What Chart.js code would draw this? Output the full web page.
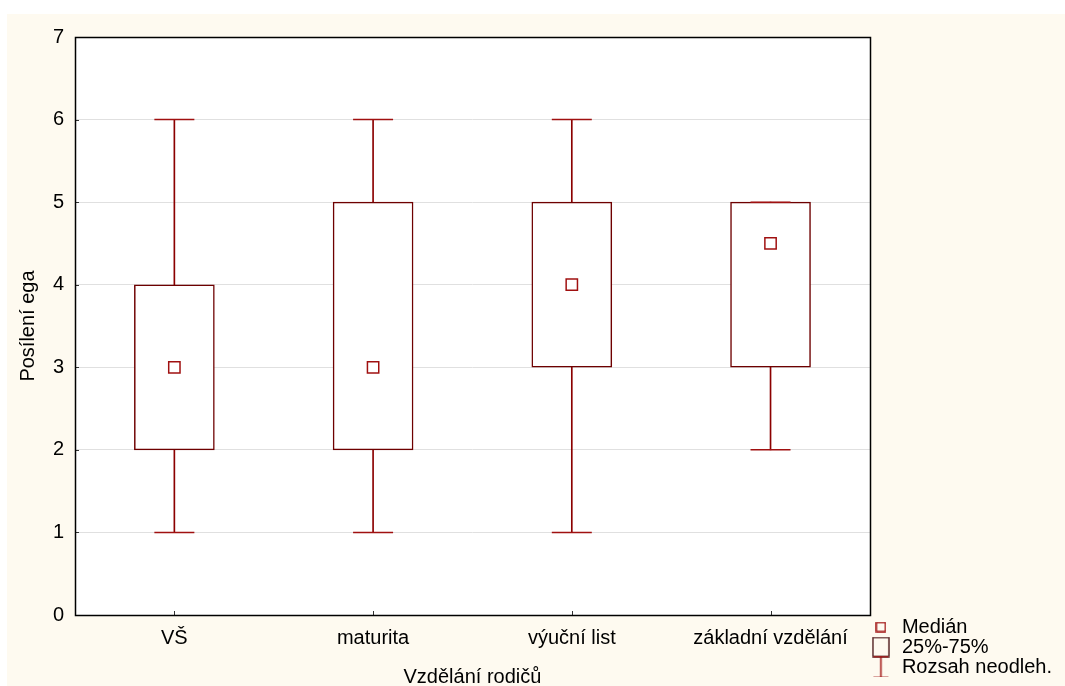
<!DOCTYPE html>
<html lang="cs">
<head>
<meta charset="UTF-8">
<title>Posílení ega – Vzdělání rodičů</title>
<script src="https://cdn.jsdelivr.net/npm/chart.js"></script>
<style>
    body { margin: 0; background: #fff; }
    #wrap {
        position: absolute;
        left: 7px; top: 14px;
        width: 1058px; height: 672px;
        background: #fefaf0;
    }
</style>
</head>
<body>
<div id="wrap"><canvas id="chart"></canvas></div>
<script>
    // box plot values
    const categories = ['VŠ', 'maturita', 'výuční list', 'základní vzdělání'];
    const minValues = [1, 1, 1, 2];
    const q1Values = [2, 2, 3, 3];
    const medianValues = [3, 3, 4, 4.5];
    const q3Values = [4, 5, 5, 5];
    const maxValues = [6, 6, 6, 5];
    const legendTexts = ['Medián', '25%-75%', 'Rozsah neodleh.'];

    const RED = '#8b0000';
    const FONT = '"Liberation Sans", Arial, sans-serif';

    // small icons for the legend
    function icon(w, h, draw) {
        const c = document.createElement('canvas');
        c.width = w; c.height = h;
        draw(c.getContext('2d'));
        return c;
    }
    const medianIcon = icon(11, 11, ctx => {
        ctx.strokeStyle = '#a01010'; ctx.lineWidth = 1.5;
        ctx.strokeRect(1, 1, 9, 9);
    });
    const boxIcon = icon(18, 21, ctx => {
        ctx.strokeStyle = '#5a2a2a'; ctx.lineWidth = 1.5;
        ctx.strokeRect(1, 1, 16, 19);
    });
    const rangeIcon = icon(17, 23, ctx => {
        ctx.strokeStyle = '#a01010'; ctx.lineWidth = 1.5;
        ctx.beginPath();
        ctx.moveTo(1, 1); ctx.lineTo(16, 1);
        ctx.moveTo(8.5, 1); ctx.lineTo(8.5, 22);
        ctx.moveTo(1, 22); ctx.lineTo(16, 22);
        ctx.stroke();
    });
    const legendIcons = [medianIcon, boxIcon, rangeIcon];

    const plotFrame = {
        id: 'plotFrame',
        beforeDraw(chart) {
            const a = chart.chartArea, ctx = chart.ctx;
            ctx.save();
            ctx.fillStyle = '#fff';
            ctx.fillRect(a.left, a.top, a.right - a.left, a.bottom - a.top);
            ctx.restore();
        },
        afterDraw(chart) {
            const a = chart.chartArea, ctx = chart.ctx;
            const x = chart.scales.x, y = chart.scales.y;
            ctx.save();
            ctx.strokeStyle = '#333';
            ctx.lineWidth = 1;
            ctx.beginPath();
            y.ticks.forEach(t => {
                const py = Math.round(y.getPixelForValue(t.value)) + 0.5;
                ctx.moveTo(a.left, py); ctx.lineTo(a.left + 4, py);
            });
            categories.forEach((c, i) => {
                const px = Math.round(x.getPixelForValue(i)) + 0.5;
                ctx.moveTo(px, a.bottom); ctx.lineTo(px, a.bottom - 4);
            });
            ctx.stroke();
            ctx.strokeStyle = '#000';
            ctx.lineWidth = 1.5;
            ctx.strokeRect(Math.round(a.left) + 0.5, Math.round(a.top) + 0.5,
                Math.round(a.right - a.left), Math.round(a.bottom - a.top));
            ctx.restore();
        }
    };

    new Chart(document.getElementById('chart'), {
        type: 'bar',
        data: {
            labels: categories,
            datasets: [
                {
                    label: 'whisker',
                    data: categories.map((c, i) => [minValues[i], maxValues[i]]),
                    backgroundColor: RED,
                    barThickness: 1,
                    grouped: false,
                    order: 5
                },
                {
                    label: '25%-75%',
                    data: categories.map((c, i) => [q1Values[i], q3Values[i]]),
                    backgroundColor: '#fff',
                    borderColor: '#6e0000',
                    borderWidth: 1.5,
                    borderSkipped: false,
                    barThickness: 80,
                    grouped: false,
                    order: 4
                },
                {
                    type: 'line',
                    label: 'min',
                    data: minValues,
                    showLine: false,
                    pointStyle: 'line',
                    pointRadius: 20,
                    borderColor: '#a01010',
                    pointBorderWidth: 1.5,
                    order: 3
                },
                {
                    type: 'line',
                    label: 'max',
                    data: maxValues,
                    showLine: false,
                    pointStyle: 'line',
                    pointRadius: 20,
                    borderColor: '#a01010',
                    pointBorderWidth: 1.5,
                    order: 2
                },
                {
                    type: 'line',
                    label: 'Medián',
                    data: medianValues,
                    showLine: false,
                    pointStyle: 'rect',
                    pointRadius: 8,
                    pointBackgroundColor: '#fff',
                    borderColor: '#a01010',
                    pointBorderWidth: 1.5,
                    order: 1
                }
            ]
        },
        options: {
            responsive: true,
            maintainAspectRatio: false,
            animation: false,
            events: [],
            layout: { padding: { top: 23, right: 3, bottom: 9, left: 0 } },
            scales: {
                x: {
                    offset: true,
                    grid: { display: false, drawTicks: false },
                    border: { display: false },
                    ticks: { color: '#000', font: { family: FONT, size: 20 }, padding: 11 },
                    title: {
                        display: true, text: 'Vzdělání rodičů', color: '#000',
                        font: { family: FONT, size: 20, lineHeight: 1 },
                        padding: { top: 0, bottom: -10 }
                    },
                    afterFit(scale) { scale.height = 62; }
                },
                y: {
                    min: 0, max: 7,
                    grid: { color: '#e0e0e0', drawTicks: false },
                    border: { display: false },
                    ticks: { stepSize: 1, color: '#000', font: { family: FONT, size: 20 }, padding: 11 },
                    title: {
                        display: true, text: 'Posílení ega', color: '#000',
                        font: { family: FONT, size: 20, lineHeight: 1 },
                        padding: { top: 11, bottom: 0 }
                    },
                    afterFit(scale) { scale.width = 68; }
                }
            },
            plugins: {
                tooltip: { enabled: false },
                legend: {
                    position: 'right',
                    align: 'end',
                    labels: {
                        usePointStyle: true,
                        pointStyleWidth: 22,
                        color: '#000',
                        font: { family: FONT, size: 20 },
                        padding: 0,
                        generateLabels() {
                            return legendTexts.map((t, i) => ({
                                text: t,
                                pointStyle: legendIcons[i],
                                fillStyle: 'transparent',
                                strokeStyle: 'transparent',
                                lineWidth: 0,
                                hidden: false,
                                datasetIndex: i
                            }));
                        }
                    }
                }
            }
        },
        plugins: [plotFrame]
    });
</script>
</body>
</html>
